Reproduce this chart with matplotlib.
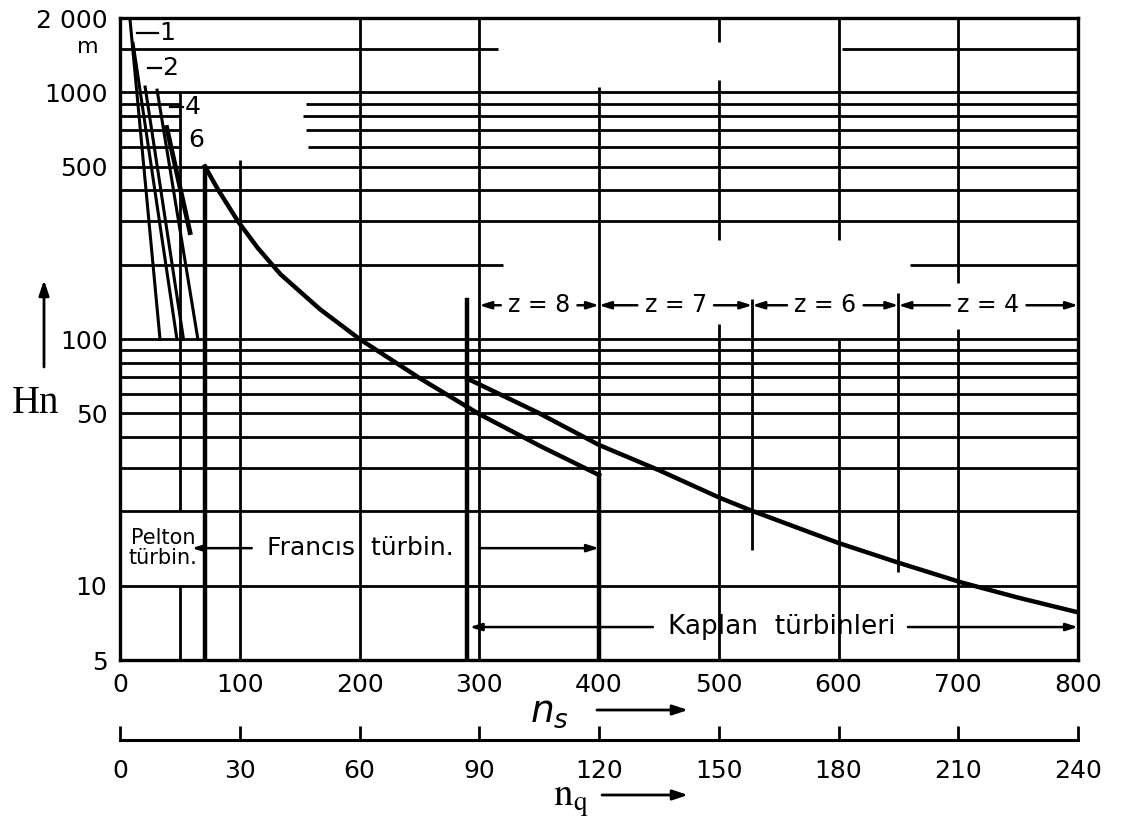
import numpy as np
import matplotlib.pyplot as plt

# Francis turbine limit curve (n_s, H)
francis_ns = [71, 82, 98.5, 115, 134, 167, 200, 250, 300, 351, 400]
francis_h = [500, 402, 300, 234, 183, 132, 100, 69.5, 49.6, 36.8, 28.1]

# Kaplan turbine limit curve
kaplan_ns = [293, 348, 400, 450, 501, 528, 600, 650, 703, 750, 800]
kaplan_h = [68, 50.6, 37.2, 29.4, 22.7, 20.1, 14.9, 12.4, 10.3, 8.95, 7.8]

# Pelton lines (number of jets)
pelton_ns = [[8.4, 33.4], [10.9, 47.5], [21, 53], [31, 65], [39, 58.5]]
pelton_h = [[1960, 100], [1580, 100], [1050, 100], [1020, 100], [720, 270]]
pelton_jets = ['1', '2', '4', '6']
# where the jet numbers are written
jet_lab_ns = [33, 35, 54, 57]
jet_lab_h = [1740, 1254, 871, 640]
jet_lead_ns = [14, 23, 42, None]

# number of blades for Kaplan
z_labels = ['z = 8', 'z = 7', 'z = 6', 'z = 4']
z_bounds = [300, 400, 528, 650, 800]

ns_ticks = [0, 100, 200, 300, 400, 500, 600, 700, 800]
nq_ticks = [0, 30, 60, 90, 120, 150, 180, 210, 240]
h_ticks = [5, 10, 50, 100, 500, 1000, 2000]
h_ticklabels = ['5', '10', '50', '100', '500', '1000', '2 000']

# grid drawn like the printed chart: (value, from, to)
h_grid = [(10, 0, 800), (20, 0, 800), (30, 0, 800), (40, 0, 800), (50, 0, 800),
          (60, 0, 800), (70, 0, 800), (80, 0, 800), (90, 0, 800), (100, 0, 800),
          (200, 0, 320), (200, 660, 800), (300, 0, 800), (400, 0, 800), (500, 0, 800),
          (600, 0, 50), (600, 157, 800), (700, 0, 50), (700, 155, 800),
          (800, 0, 50), (800, 153, 800), (900, 0, 50), (900, 155, 800),
          (1000, 0, 800), (1500, 0, 316), (1500, 603, 800)]
v_grid = [(50, 1000, 20), (50, 10, 5), (100, 530, 5), (200, 2000, 5), (300, 2000, 5),
          (400, 1050, 5), (500, 2000, 1600), (500, 1120, 252), (500, 115, 5),
          (528, 145, 14), (600, 2000, 252), (600, 100, 5), (650, 153, 11.4),
          (700, 2000, 169), (700, 110, 5)]

plt.rcParams['font.family'] = ['DejaVu Sans']
fig = plt.figure(figsize=(11.22, 8.25), dpi=100)
ax = fig.add_axes([120/1122, 1-660/825, 958/1122, 642/825])
ax.set_yscale('log')
ax.set_xlim(0, 800)
ax.set_ylim(5, 2000)

for h, a, b in h_grid:
    ax.plot([a, b], [h, h], color='k', lw=2.0, solid_capstyle='butt')
for n, a, b in v_grid:
    ax.plot([n, n], [a, b], color='k', lw=2.0, solid_capstyle='butt')

# turbine boundaries
ax.plot([francis_ns[0], francis_ns[0]], [francis_h[0], 5], color='k', lw=3.2)
ax.plot([francis_ns[-1], francis_ns[-1]], [francis_h[-1], 5], color='k', lw=3.2)
ax.plot([kaplan_ns[0] - 3, kaplan_ns[0] - 3], [144, 5], color='k', lw=3.2)

ax.plot(francis_ns, francis_h, color='k', lw=3.2, solid_joinstyle='round')
ax.plot(kaplan_ns, kaplan_h, color='k', lw=3.2, solid_joinstyle='round')
ax.plot([kaplan_ns[0] - 3, kaplan_ns[0]], [kaplan_h[0], kaplan_h[0]], color='k', lw=3.2)

for i, (xs, ys) in enumerate(zip(pelton_ns, pelton_h)):
    ax.plot(xs, ys, color='k', lw=3.4 if i == len(pelton_ns) - 1 else 2.2)
for lab, lx, ly, ld in zip(pelton_jets, jet_lab_ns, jet_lab_h, jet_lead_ns):
    ax.text(lx, ly, lab, fontsize=18, ha='left', va='center')
    if ld is not None:
        ax.plot([ld, lx - 1], [ly, ly], color='k', lw=1.6)

arr = dict(arrowstyle='-|>,head_length=0.7,head_width=0.22', color='k', lw=1.8,
           shrinkA=0, shrinkB=0)

# z labels
for lab, a, b in zip(z_labels, z_bounds[:-1], z_bounds[1:]):
    c = (a + b) / 2
    ax.text(c, 137, lab, fontsize=17, ha='center', va='center')
    ax.annotate('', xy=(a, 137), xytext=(c - 32, 137), arrowprops=arr)
    ax.annotate('', xy=(b, 137), xytext=(c + 32, 137), arrowprops=arr)

# Pelton box text
ax.text(36, 14.2, 'Pelton\ntürbin.', fontsize=15, ha='center', va='center', linespacing=1.0)
ax.text(201, 14.2, 'Francıs  türbin.', fontsize=18, ha='center', va='center')
ax.annotate('', xy=(60, 14.2), xytext=(110, 14.2), arrowprops=arr)
ax.annotate('', xy=(400, 14.2), xytext=(300, 14.2), arrowprops=arr)

ax.text(553, 6.8, 'Kaplan  türbinleri', fontsize=19, ha='center', va='center')
ax.annotate('', xy=(292, 6.8), xytext=(445, 6.8), arrowprops=arr)
ax.annotate('', xy=(800, 6.8), xytext=(658, 6.8), arrowprops=arr)

ax.set_xticks(ns_ticks)
ax.set_xticklabels([str(t) for t in ns_ticks], fontsize=18)
ax.set_yticks(h_ticks)
ax.set_yticklabels(h_ticklabels, fontsize=18)
ax.minorticks_off()
ax.tick_params(length=0, pad=9)
for s in ax.spines.values():
    s.set_linewidth(2.4)
ax.text(-0.022, 1520, 'm', fontsize=16, ha='right', va='center',
        transform=ax.get_yaxis_transform())

# n_q axis
sec = ax.secondary_xaxis(-0.1246, functions=(lambda x: x * 0.3, lambda x: x / 0.3))
sec.set_xticks(nq_ticks)
sec.set_xticklabels([str(t) for t in nq_ticks], fontsize=18)
sec.tick_params(direction='in', length=10, width=2, pad=14)
sec.spines['bottom'].set_linewidth(2.2)

# axis titles
fig.text(12/1122, 1-413/825, 'Hn', family='Liberation Serif', fontsize=28, va='baseline')
fig_arr = dict(arrowstyle='-|>,head_length=0.9,head_width=0.3', color='k', lw=2,
               shrinkA=0, shrinkB=0)
ax.annotate('', xy=(44/1122, 1-280/825), xytext=(44/1122, 1-367/825),
            xycoords='figure fraction', textcoords='figure fraction', arrowprops=fig_arr)
fig.text(530/1122, 1-722/825, r'$n_s$', fontsize=27, va='baseline')
ax.annotate('', xy=(688/1122, 1-710/825), xytext=(597/1122, 1-710/825),
            xycoords='figure fraction', textcoords='figure fraction', arrowprops=fig_arr)
fig.text(553/1122, 1-806/825, r'$\mathrm{n}_\mathrm{q}$', fontsize=28, va='baseline',
         math_fontfamily='stix')
ax.annotate('', xy=(688/1122, 1-795/825), xytext=(602/1122, 1-795/825),
            xycoords='figure fraction', textcoords='figure fraction', arrowprops=fig_arr)

fig.savefig('out.png', dpi=100)
